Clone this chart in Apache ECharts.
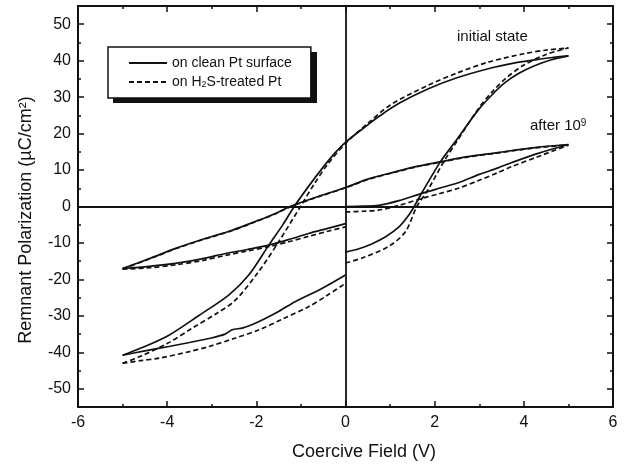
<!DOCTYPE html>
<html>
<head>
<meta charset="utf-8">
<script src="https://cdn.jsdelivr.net/npm/echarts@6/dist/echarts.min.js"></script>
<style>
html,body{margin:0;padding:0;background:#fff;}
#chart{width:624px;height:467px;}
</style>
</head>
<body>
<div id="chart"></div>
<script>
// ---- Data (Coercive Field V, Remnant Polarization uC/cm2) ----
var xTicks = [-6, -4, -2, 0, 2, 4, 6];
var yTicks = [-50, -40, -30, -20, -10, 0, 10, 20, 30, 40, 50];
var yMinorTicks = [-45, -35, -25, -15, -5, 5, 15, 25, 35, 45];

var seriesCleanName = 'on clean Pt surface';
var seriesTreatedName = 'on H2S-treated Pt';

// initial state, clean Pt (solid)
var cleanInitAscend = [[-5,-40.8],[-4.5,-38.4],[-3.96,-35.3],[-3.29,-29.9],[-2.62,-24.3],[-2.17,-18.8],[-1.72,-10.6],[-1.4,-4.9],[-1.15,0],[-0.8,6.0],[-0.5,10.8],[-0.25,14.5],[0,17.6],[0.5,22.4],[0.74,24.6],[1.2,28.3],[1.86,32.3],[2.5,35.3],[3.2,37.8],[3.8,39.4],[4.24,40.2],[4.6,40.8],[5,41.3]];
var cleanInitRight = [[0,-12.5],[0.3,-11.6],[0.6,-10.2],[0.9,-8.3],[1.2,-5.6],[1.4,-2.7],[1.54,0],[1.71,3.7],[2.12,12.1],[2.45,17.6],[2.98,26.5],[3.3,30.8],[3.57,33.9],[3.9,36.6],[4.24,38.6],[4.6,40.2],[5,41.3]];
var cleanInitLower = [[-5,-40.8],[-4.5,-39.6],[-3.96,-38.4],[-3.5,-37.3],[-3.06,-36.2],[-2.7,-35.0],[-2.54,-33.8],[-2.3,-33.3],[-1.95,-31.6],[-1.5,-28.8],[-1.13,-26.1],[-0.53,-22.5],[0,-18.8]];

// initial state, H2S-treated Pt (dashed)
var treatedInitAscend = [[-5,-43],[-4.6,-41.1],[-4.0,-37.6],[-3.44,-33.4],[-2.9,-29.4],[-2.47,-25.7],[-1.95,-17.9],[-1.5,-9.7],[-1.01,0],[-0.7,6.2],[-0.4,11.6],[0,17.3],[0.5,22.8],[1.0,27.8],[1.86,33.3],[2.5,36.6],[3.2,39.6],[4.0,41.9],[4.5,42.9],[5,43.5]];
var treatedInitRight = [[0,-15.5],[0.4,-14.0],[0.96,-11.0],[1.34,-7.0],[1.6,0],[1.85,4.6],[2.2,12.2],[2.5,17.9],[3.0,27.2],[3.3,31.6],[3.6,35.2],[4.0,38.8],[4.5,41.7],[5,43.5]];
var treatedInitLower = [[-5,-43],[-4.6,-42.3],[-4.18,-41.6],[-3.5,-39.8],[-3.06,-38.4],[-2.5,-36.2],[-1.95,-33.9],[-1.4,-30.8],[-0.83,-27.5],[-0.4,-24.3],[0,-21.1]];

// after 10^9 cycles, clean Pt (solid)
var cleanAfterAscend = [[-5,-17],[-4.4,-14.3],[-3.81,-11.5],[-3.2,-9.0],[-2.54,-6.5],[-2.0,-4.0],[-1.57,-1.9],[-1.24,0],[-0.6,2.8],[0,5.2],[0.5,7.5],[1.11,9.5],[1.6,11.0],[2.15,12.3],[2.7,13.6],[3.42,14.8],[4.2,16.1],[5,17]];
var cleanAfterLower = [[-5,-17],[-4.4,-16.4],[-3.81,-15.6],[-3.2,-14.3],[-2.69,-12.9],[-2.2,-11.8],[-1.72,-10.6],[-1.25,-9.0],[-0.83,-7.4],[-0.4,-6.0],[0,-4.7]];
var cleanAfterRight = [[0,0],[0.4,0.1],[0.74,0.3],[1.2,1.6],[1.71,3.6],[2.1,5.0],[2.53,6.5],[3.0,8.8],[3.42,10.6],[3.72,12.0],[4.3,14.5],[5,17]];

// after 10^9 cycles, H2S-treated Pt (dashed)
var treatedAfterAscend = [[-5,-17.1],[-4.4,-14.4],[-3.81,-11.6],[-3.2,-9.1],[-2.54,-6.6],[-2.0,-4.1],[-1.57,-2.0],[-1.24,-0.1],[-0.6,2.7],[0,5.1],[0.5,7.4],[1.11,9.4],[1.6,10.9],[2.15,12.2],[2.7,13.5],[3.42,14.7],[4.2,16.0],[5,16.9]];
var treatedAfterLower = [[-5,-17.2],[-4.4,-16.8],[-3.81,-16.0],[-3.2,-14.8],[-2.69,-13.4],[-2.2,-12.2],[-1.72,-11.0],[-1.25,-9.6],[-0.83,-8.2],[-0.4,-6.8],[0,-5.6]];
var treatedAfterRight = [[0,-1.5],[0.4,-1.3],[0.74,-1.0],[1.2,0.3],[1.71,2.2],[2.1,3.5],[2.53,5.0],[3.0,7.2],[3.42,9.3],[3.72,10.9],[4.3,13.6],[5,16.8]];

var FONT = '"Liberation Sans", Arial, Helvetica, sans-serif';

function seg(name, data, dashed, extra) {
  var s = {
    name: name,
    type: 'line',
    data: data,
    xAxisIndex: 0,
    yAxisIndex: 0,
    showSymbol: false,
    symbol: 'none',
    smooth: 0.3,
    silent: true,
    animation: false,
    lineStyle: { color: '#111', width: 1.7, type: dashed ? [5, 3] : 'solid' },
    itemStyle: { color: '#111' },
    z: 3
  };
  if (extra) { for (var k in extra) s[k] = extra[k]; }
  return s;
}

var series = [
  seg(seriesCleanName, cleanInitAscend, false, {
    markLine: {
      silent: true, symbol: 'none', animation: false,
      label: { show: false },
      lineStyle: { color: '#111', width: 1.8, type: 'solid' },
      data: [{ xAxis: 0 }, { yAxis: 0 }]
    }
  }),
  seg(seriesCleanName, cleanInitRight, false),
  seg(seriesCleanName, cleanInitLower, false),
  seg(seriesCleanName, cleanAfterAscend, false),
  seg(seriesCleanName, cleanAfterLower, false),
  seg(seriesCleanName, cleanAfterRight, false),
  seg(seriesTreatedName, treatedInitAscend, true),
  seg(seriesTreatedName, treatedInitRight, true),
  seg(seriesTreatedName, treatedInitLower, true),
  seg(seriesTreatedName, treatedAfterAscend, true),
  seg(seriesTreatedName, treatedAfterLower, true),
  seg(seriesTreatedName, treatedAfterRight, true)
];

var axisLineStyle = { color: '#111', width: 2 };
var tickStyle = { color: '#111', width: 1.5 };

function xAx(pos, showLabel) {
  return {
    type: 'value', position: pos, min: xTicks[0], max: xTicks[xTicks.length - 1], interval: 2,
    axisLine: { show: true, onZero: false, lineStyle: axisLineStyle },
    axisTick: { show: true, inside: true, length: 6, lineStyle: tickStyle },
    minorTick: { show: true, splitNumber: 2, length: 3, lineStyle: tickStyle },
    splitLine: { show: false }, minorSplitLine: { show: false },
    axisLabel: { show: showLabel, margin: 8, fontSize: 16, color: '#111', fontFamily: FONT }
  };
}
function yAx(pos, ticks, len, showLine, showLabel) {
  return {
    type: 'value', position: pos, min: -55, max: 55,
    axisLine: { show: showLine, onZero: false, lineStyle: axisLineStyle },
    axisTick: { show: true, inside: true, length: len, customValues: ticks, lineStyle: tickStyle },
    splitLine: { show: false },
    axisLabel: { show: showLabel, customValues: ticks, margin: 7, fontSize: 16, color: '#111', fontFamily: FONT }
  };
}

var chart = echarts.init(document.getElementById('chart'), null, { renderer: 'canvas' });
chart.setOption({
  backgroundColor: '#fff',
  animation: false,
  grid: { left: 78, right: 11, top: 6, bottom: 60, containLabel: false },
  xAxis: [xAx('bottom', true), xAx('top', false)],
  yAxis: [
    yAx('left', yTicks, 6, true, true),
    yAx('left', yMinorTicks, 3, false, false),
    yAx('right', yTicks, 6, true, false),
    yAx('right', yMinorTicks, 3, false, false)
  ],
  legend: {
    data: [seriesCleanName, seriesTreatedName],
    orient: 'vertical',
    left: 108, top: 47,
    padding: [9, 19, 9, 20],
    itemGap: 5,
    itemWidth: 38, itemHeight: 14,
    backgroundColor: '#fff',
    borderColor: '#111', borderWidth: 1.5,
    itemStyle: { opacity: 0 },
    inactiveColor: '#111',
    selectedMode: false,
    z: 10,
    formatter: function (name) {
      return name === seriesTreatedName ? 'on H{sub|2}S-treated Pt' : name;
    },
    textStyle: {
      fontSize: 14, color: '#111', fontFamily: FONT, lineHeight: 14,
      rich: { sub: { fontSize: 9, fontFamily: FONT, color: '#111', verticalAlign: 'bottom', lineHeight: 6 } }
    }
  },
  graphic: [
    {
      type: 'rect', z: 5, silent: true,
      shape: { x: 113, y: 52, width: 204, height: 51 },
      style: { fill: '#111' }
    },
    {
      type: 'text', x: 364, y: 452, silent: true,
      style: { text: 'Coercive Field (V)', font: '18px ' + FONT, fill: '#111', align: 'center', verticalAlign: 'middle' }
    },
    {
      type: 'text', x: 26, y: 220, rotation: Math.PI / 2, silent: true,
      style: { text: 'Remnant Polarization (\u00b5C/cm\u00b2)', font: '18px ' + FONT, fill: '#111', align: 'center', verticalAlign: 'middle' }
    },
    {
      type: 'text', x: 457, y: 37, silent: true,
      style: { text: 'initial state', font: '15px ' + FONT, fill: '#111', align: 'left', verticalAlign: 'middle' }
    },
    {
      type: 'text', x: 530, y: 126, silent: true,
      style: {
        text: 'after 10{sup|9}', font: '15px ' + FONT, fill: '#111', align: 'left', verticalAlign: 'middle',
        lineHeight: 16,
        rich: { sup: { font: '10px ' + FONT, fill: '#111', verticalAlign: 'top', lineHeight: 7 } }
      }
    }
  ],
  series: series
});
</script>
</body>
</html>
